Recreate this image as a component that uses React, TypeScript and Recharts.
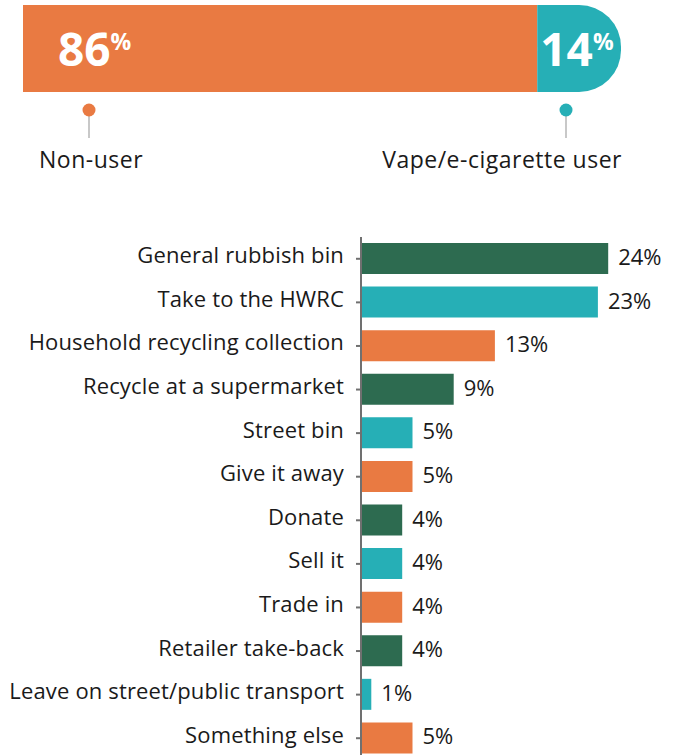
import React from "react";
import { BarChart, Bar, XAxis, YAxis, LabelList, Cell } from "recharts";

const splitLabels = ["Non-user", "Vape/e-cigarette user"];
const splitValues = [86, 14];

const categories = [
  "General rubbish bin",
  "Take to the HWRC",
  "Household recycling collection",
  "Recycle at a supermarket",
  "Street bin",
  "Give it away",
  "Donate",
  "Sell it",
  "Trade in",
  "Retailer take-back",
  "Leave on street/public transport",
  "Something else",
];
const values = [24, 23, 13, 9, 5, 5, 4, 4, 4, 4, 1, 5];

const ORANGE = "#E97A42";
const TEAL = "#26AFB6";
const GREEN = "#2D6B50";
const barColors = [GREEN, TEAL, ORANGE];
const FONT = "'Open Sans', sans-serif";
const TEXT = "#1a1a1a";

const splitData = [{ name: "all", nonUser: splitValues[0], user: splitValues[1] }];
const barData = categories.map((c, i) => ({ name: c, value: values[i] }));

const makeBigLabel = (offset: number) => (props: any) => {
  const { x, y, height, value } = props;
  return (
    <text
      x={x + offset}
      y={y + height / 2 + 17}
      fill="#ffffff"
      fontFamily={FONT}
      fontWeight={700}
      fontSize={46}
    >
      {value}
      <tspan fontSize={23} dy={-16}>
        %
      </tspan>
    </text>
  );
};

const CategoryTick = (props: any) => {
  const { x, y, payload } = props;
  return (
    <text
      x={x}
      y={y + 4.5}
      textAnchor="end"
      fill={TEXT}
      fontFamily={FONT}
      fontSize={22}
      letterSpacing={0.15}
    >
      {payload.value}
    </text>
  );
};

const ValueLabel = (props: any) => {
  const { x, y, width, height, value } = props;
  return (
    <text
      x={x + width + 10}
      y={y + height / 2 + 6.5}
      fill={TEXT}
      fontFamily={FONT}
      fontSize={22}
    >
      {`${value}%`}
    </text>
  );
};

export default function App() {
  return (
    <div
      style={{
        position: "absolute",
        left: 0,
        top: 0,
        width: 675,
        height: 755,
        overflow: "hidden",
        background: "#ffffff",
        fontFamily: FONT,
      }}
    >
      <div style={{ position: "absolute", left: 0, top: 0 }}>
        <BarChart
          width={675}
          height={100}
          data={splitData}
          layout="vertical"
          margin={{ top: 5, right: 54, bottom: 8, left: 23 }}
          barCategoryGap={0}
        >
          <XAxis type="number" domain={[0, 100]} hide />
          <YAxis type="category" dataKey="name" hide />
          <Bar dataKey="nonUser" stackId="a" fill={ORANGE} isAnimationActive={false}>
            <LabelList dataKey="nonUser" content={makeBigLabel(35)} />
          </Bar>
          <Bar
            dataKey="user"
            stackId="a"
            fill={TEAL}
            radius={[0, 43.5, 43.5, 0]}
            isAnimationActive={false}
          >
            <LabelList dataKey="user" content={makeBigLabel(3)} />
          </Bar>
        </BarChart>
      </div>

      <svg
        style={{ position: "absolute", left: 0, top: 0 }}
        width={675}
        height={200}
      >
        <line x1={89} y1={112} x2={89} y2={138} stroke="#C8C8C8" strokeWidth={2} />
        <circle cx={89} cy={110} r={6.5} fill={ORANGE} />
        <line x1={566} y1={112} x2={566} y2={138} stroke="#C8C8C8" strokeWidth={2} />
        <circle cx={566} cy={110} r={6.5} fill={TEAL} />
        <text x={39} y={168} fontFamily={FONT} fontSize={23} letterSpacing={0.5} fill={TEXT}>
          {splitLabels[0]}
        </text>
        <text
          x={622}
          y={168}
          textAnchor="end"
          fontFamily={FONT}
          fontSize={23}
          letterSpacing={0.5}
          fill={TEXT}
        >
          {splitLabels[1]}
        </text>
      </svg>

      <div style={{ position: "absolute", left: 0, top: 200 }}>
        <BarChart
          width={675}
          height={560}
          data={barData}
          layout="vertical"
          margin={{ top: 37, right: 5, bottom: 0, left: 0 }}
        >
          <XAxis type="number" domain={[0, 30]} hide />
          <YAxis
            type="category"
            dataKey="name"
            width={361}
            interval={0}
            tickSize={5}
            tickMargin={12}
            axisLine={{ stroke: "#707070", strokeWidth: 2 }}
            tickLine={{ stroke: "#707070", strokeWidth: 2 }}
            tick={<CategoryTick />}
          />
          <Bar dataKey="value" barSize={31} isAnimationActive={false}>
            {barData.map((d, i) => (
              <Cell key={d.name} fill={barColors[i % 3]} />
            ))}
            <LabelList dataKey="value" content={<ValueLabel />} />
          </Bar>
        </BarChart>
      </div>
    </div>
  );
}
